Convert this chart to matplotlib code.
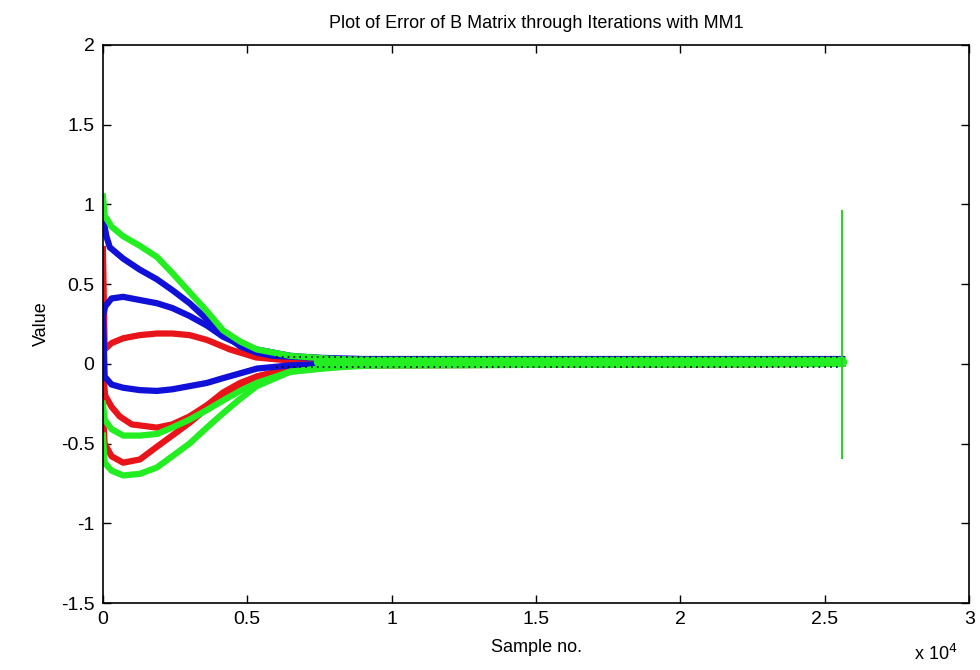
import numpy as np
import matplotlib.pyplot as plt

# values (sample no., error value)
x_end = 25600

green_top_x = [0, 60, 300, 700, 1280, 1870, 2400, 3000, 3600, 4160, 4750, 5330, 6480, 8000, 10000, x_end]
green_top_y = [1.05, 0.93, 0.86, 0.80, 0.74, 0.67, 0.57, 0.45, 0.33, 0.21, 0.14, 0.09, 0.05, 0.03, 0.02, 0.02]

blue_top_x = [0, 120, 240, 700, 1280, 1870, 2420, 3000, 3600, 4160, 4750, 5330, 5890, 7000, 9000, x_end]
blue_top_y = [0.92, 0.80, 0.73, 0.66, 0.59, 0.53, 0.46, 0.38, 0.28, 0.19, 0.11, 0.07, 0.05, 0.04, 0.03, 0.03]

blue_mid_x = [0, 80, 300, 700, 1280, 1870, 2400, 3000, 3600, 4160, 4750, 5330, 6500, 8000, x_end]
blue_mid_y = [0.30, 0.36, 0.41, 0.42, 0.40, 0.38, 0.35, 0.30, 0.24, 0.17, 0.12, 0.09, 0.05, 0.03, 0.02]

red_up_x = [0, 60, 300, 700, 1280, 1870, 2400, 3000, 3600, 4000, 4400, 5300, 6500, 8000, x_end]
red_up_y = [0.72, 0.09, 0.13, 0.16, 0.18, 0.19, 0.19, 0.18, 0.15, 0.12, 0.09, 0.04, 0.02, 0.01, 0.01]

blue_low_x = [0, 60, 300, 700, 1280, 1870, 2400, 3000, 3600, 4160, 4750, 5330, 6480, 8000, x_end]
blue_low_y = [0.30, -0.08, -0.13, -0.15, -0.165, -0.17, -0.16, -0.14, -0.12, -0.09, -0.06, -0.03, -0.01, 0.0, 0.0]

red_mid_x = [0, 80, 300, 580, 1000, 1870, 2400, 3000, 3600, 4160, 4750, 5330, 6480, 8000, x_end]
red_mid_y = [-0.05, -0.20, -0.27, -0.33, -0.38, -0.40, -0.38, -0.33, -0.26, -0.18, -0.12, -0.08, -0.03, -0.01, 0.0]

green_mid_x = [0, 60, 300, 700, 1280, 1870, 2400, 3000, 3600, 4160, 4750, 5330, 6480, 7600, 9000, x_end]
green_mid_y = [-0.25, -0.35, -0.41, -0.45, -0.45, -0.44, -0.40, -0.35, -0.29, -0.23, -0.17, -0.12, -0.05, -0.03, -0.01, 0.0]

red_low_x = [0, 60, 300, 700, 1280, 1870, 2400, 3000, 3600, 4160, 4750, 5330, 6500, 8000, x_end]
red_low_y = [-0.30, -0.50, -0.58, -0.62, -0.60, -0.52, -0.45, -0.37, -0.28, -0.20, -0.13, -0.08, -0.03, -0.01, 0.0]

green_low_x = [0, 60, 300, 700, 1280, 1870, 2400, 3000, 3600, 4160, 4750, 5330, 6480, 8000, 9500, x_end]
green_low_y = [-0.45, -0.62, -0.67, -0.70, -0.69, -0.65, -0.58, -0.50, -0.40, -0.31, -0.22, -0.14, -0.05, -0.02, -0.01, 0.0]

# converged band and the final spike of the last series
band_x = [7500, x_end]
band_y = [0.012, 0.012]
spike_x = [x_end, x_end]
spike_y = [0.96, -0.59]

x_ticks = [0, 5000, 10000, 15000, 20000, 25000, 30000]
x_tick_labels = ["0", "0.5", "1", "1.5", "2", "2.5", "3"]
y_ticks = [-1.5, -1, -0.5, 0, 0.5, 1, 1.5, 2]
y_tick_labels = ["-1.5", "-1", "-0.5", "0", "0.5", "1", "1.5", "2"]

plt.rcParams['font.family'] = ['Liberation Sans', 'DejaVu Sans']

fig = plt.figure(figsize=(9.8, 6.7), dpi=100)
ax = fig.add_axes([0.105, 0.1, 0.884, 0.833])

red = "#e8141a"
blue = "#1010d8"
green = "#22ee22"
lw = 4.5

ax.plot(red_up_x, red_up_y, color=red, lw=lw)
ax.plot(red_mid_x, red_mid_y, color=red, lw=lw)
ax.plot(red_low_x, red_low_y, color=red, lw=lw)
ax.plot(blue_top_x, blue_top_y, color=blue, lw=lw)
ax.plot(blue_mid_x, blue_mid_y, color=blue, lw=lw)
ax.plot(blue_low_x, blue_low_y, color=blue, lw=lw)
ax.plot(green_top_x, green_top_y, color=green, lw=lw)
ax.plot(green_mid_x, green_mid_y, color=green, lw=lw)
ax.plot(green_low_x, green_low_y, color=green, lw=lw)
ax.plot(band_x, band_y, color=green, lw=7.5, solid_capstyle="round")
# dark dotted edges along the converged band
ax.plot([6000, x_end], [0.045, 0.045], color="#000044", lw=1.2, ls=(0, (1, 2.5)))
ax.plot([6000, x_end], [-0.022, -0.022], color="#000044", lw=1.2, ls=(0, (1, 2.5)))
ax.plot(spike_x, spike_y, color="#33cc33", lw=1.5)

ax.set_xlim(0, 30000)
ax.set_ylim(-1.5, 2)
ax.set_xticks(x_ticks)
ax.set_xticklabels(x_tick_labels)
ax.set_yticks(y_ticks)
ax.set_yticklabels(y_tick_labels)
ax.tick_params(direction="in", top=True, right=True, length=6, width=1,
               labelsize=14, pad=6)
for s in ax.spines.values():
    s.set_linewidth(1.2)

ax.set_title("Plot of Error of B Matrix through Iterations with MM1", fontsize=13, pad=12)
ax.set_xlabel("Sample no.", fontsize=13, labelpad=8)
ax.set_ylabel("Value", fontsize=13, labelpad=8)
fig.text(0.955, 0.015, r"x 10$^4$", fontsize=13, ha="center")

fig.savefig("out.png", dpi=100)
